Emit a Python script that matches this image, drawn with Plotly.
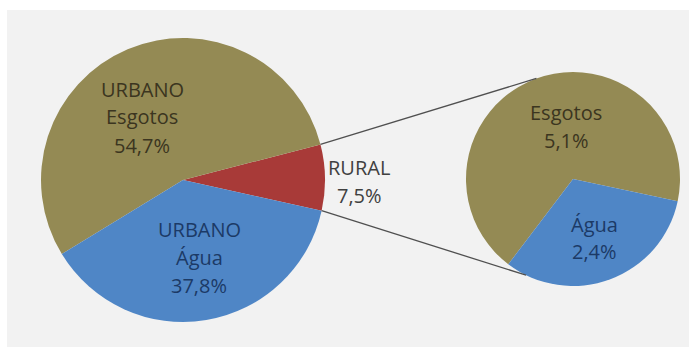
import math
import plotly.graph_objects as go

# ---- data ----
main_groups = ["RURAL", "URBANO", "URBANO"]
main_types = ["", "Esgotos", "Água"]
main_values = [7.5, 54.7, 37.8]
sub_types = ["Esgotos", "Água"]
sub_values = [5.1, 2.4]

W, H = 689, 353
OLIVE, BLUE, RED = "#948a54", "#4f86c6", "#a83a38"
TXT_OLIVE, TXT_BLUE, TXT_GRAY = "#3b3520", "#1c3a66", "#404040"

# pie geometry (pixels)
L_CX, L_CY, L_R = 183, 180, 142
R_CX, R_CY, R_R = 573, 179, 107


def px(x):
    return x / W


def py(y):
    return 1 - y / H


def domain(cx, cy, r):
    return dict(x=[px(cx - r), px(cx + r)], y=[py(cy + r), py(cy - r)])


def fmt(v):
    return f"{v:.1f}".replace(".", ",") + "%"


# plotly (counterclockwise): first slice spans math angles
# [90 - rotation - span, 90 - rotation]; following slices continue ccw.
rural_span = main_values[0] / sum(main_values) * 360
l_start = 1 - rural_span / 2          # ccw math angle where RURAL starts
l_rotation = 90 - l_start - rural_span
esg_span = sub_values[0] / sum(sub_values) * 360
r_start = -12                         # ccw math angle where right Esgotos starts
r_rotation = 90 - r_start - esg_span

fig = go.Figure()
fig.add_trace(go.Pie(
    labels=[f"{g} {t}".strip() for g, t in zip(main_groups, main_types)],
    values=main_values, sort=False, direction="counterclockwise",
    rotation=l_rotation, textinfo="none", hoverinfo="label+value",
    marker=dict(colors=[RED, OLIVE, BLUE], line=dict(width=0)),
    domain=domain(L_CX, L_CY, L_R), showlegend=False,
))
fig.add_trace(go.Pie(
    labels=sub_types, values=sub_values, sort=False, direction="counterclockwise",
    rotation=r_rotation, textinfo="none", hoverinfo="label+value",
    marker=dict(colors=[OLIVE, BLUE], line=dict(width=0)),
    domain=domain(R_CX, R_CY, R_R), showlegend=False,
))


def pt(cx, cy, r, ang):
    a = math.radians(ang)
    return cx + r * math.cos(a), cy - r * math.sin(a)


shapes = [dict(type="rect", xref="paper", yref="paper", x0=px(7), x1=px(W),
               y0=py(347), y1=py(10), fillcolor="#f2f2f2", line=dict(width=0),
               layer="below")]
ux0, uy0 = pt(L_CX, L_CY, L_R, l_start + rural_span)
lx0, ly0 = pt(L_CX, L_CY, L_R, l_start)
ux1, uy1 = pt(R_CX, R_CY, R_R, 110)
lx1, ly1 = pt(R_CX, R_CY, R_R, 244)
for (a, b, c, d) in [(ux0, uy0, ux1, uy1), (lx0, ly0, lx1, ly1)]:
    shapes.append(dict(type="line", xref="paper", yref="paper",
                       x0=px(a), y0=py(b), x1=px(c), y1=py(d),
                       line=dict(color="#505050", width=1.3)))

FONT = "Open Sans"
LINE_H = 28
blocks = [
    (142, 117, [main_groups[1], main_types[1], fmt(main_values[1])], TXT_OLIVE),
    (199, 257, [main_groups[2], main_types[2], fmt(main_values[2])], TXT_BLUE),
    (359, 181, [main_groups[0], fmt(main_values[0])], TXT_GRAY),
    (566, 126, [sub_types[0], fmt(sub_values[0])], TXT_OLIVE),
    (594, 238, [sub_types[1], fmt(sub_values[1])], TXT_BLUE),
]
annotations = []
for x, yc, lines, c in blocks:
    n = len(lines)
    for i, t in enumerate(lines):
        y = yc + (i - (n - 1) / 2) * LINE_H
        annotations.append(dict(x=px(x), y=py(y), xref="paper", yref="paper",
                                text=t, showarrow=False, xanchor="center",
                                yanchor="middle",
                                font=dict(family=FONT, size=20, color=c)))

fig.update_layout(width=W, height=H, margin=dict(l=0, r=0, t=0, b=0),
                  paper_bgcolor="white", plot_bgcolor="white",
                  shapes=shapes, annotations=annotations)
fig.write_html("out.html", config={"displayModeBar": False},
               post_script="document.body.style.margin='0';document.body.style.overflow='hidden';")
